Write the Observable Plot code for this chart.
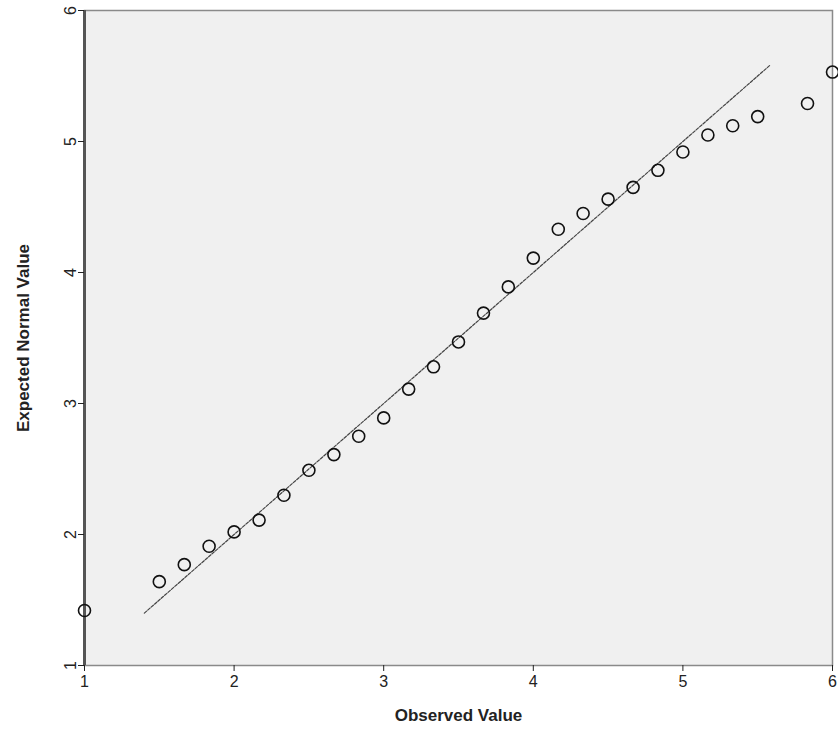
<!DOCTYPE html>
<html><head><meta charset="utf-8">
<script src="https://cdn.jsdelivr.net/npm/d3@7"></script>
<script src="https://cdn.jsdelivr.net/npm/@observablehq/plot@0.6"></script>
<style>body{margin:0;background:#fff;font-family:"Liberation Sans",Arial,sans-serif}</style>
</head><body><div id="chart"></div>
<script>
const observed = [1.0, 1.5, 1.667, 1.833, 2.0, 2.167, 2.333, 2.5, 2.667, 2.833, 3.0, 3.167, 3.333, 3.5, 3.667, 3.833, 4.0, 4.167, 4.333, 4.5, 4.667, 4.833, 5.0, 5.167, 5.333, 5.5, 5.833, 6.0];
const expected = [1.42, 1.64, 1.77, 1.91, 2.02, 2.11, 2.30, 2.49, 2.61, 2.75, 2.89, 3.11, 3.28, 3.47, 3.69, 3.89, 4.11, 4.33, 4.45, 4.56, 4.65, 4.78, 4.92, 5.05, 5.12, 5.19, 5.29, 5.53];
const refLine = [1.4, 5.58];
const xTicks = [1, 2, 3, 4, 5, 6];
const yTicks = [1, 2, 3, 4, 5, 6];
const xLabel = "Observed Value";
const yLabel = "Expected Normal Value";

const points = observed.map((x, i) => ({x, y: expected[i]}));
const linePts = refLine.map(v => ({x: v, y: v}));

const chart = Plot.plot({
  width: 838, height: 740,
  marginTop: 10, marginBottom: 75, marginLeft: 84, marginRight: 6,
  style: {fontFamily: "Liberation Sans, Arial, sans-serif", fontSize: "16px", background: "transparent", color: "#222"},
  x: {domain: [1, 6]},
  y: {domain: [1, 6]},
  marks: [
    Plot.frame({fill: "#f0f0f0"}),
    Plot.frame({stroke: "#8a8a8a", strokeWidth: 1.5}),
    Plot.ruleX([1], {stroke: "#555", strokeWidth: 3}),
    Plot.line(linePts, {x: "x", y: "y", stroke: "#444", strokeWidth: 1.2, strokeDasharray: "3,1.5"}),
    Plot.dot(points, {x: "x", y: "y", r: 6, stroke: "#111", strokeWidth: 1.6, fill: "none"}),
    Plot.axisX({ticks: xTicks, tickFormat: d3.format("d"), fontSize: 16, tickSize: 6, tickPadding: 4, label: xLabel, labelArrow: "none", labelAnchor: "center", labelOffset: 55}),
    Plot.axisY({ticks: yTicks, tickFormat: d3.format("d"), fontSize: 16, tickSize: 6, tickPadding: 3, tickRotate: -90, label: yLabel, labelArrow: "none", labelAnchor: "center", labelOffset: 68})
  ]
});
document.getElementById("chart").appendChild(chart);
chart.querySelectorAll('g[aria-label="x-axis label"], g[aria-label="y-axis label"]').forEach(g => {
  g.setAttribute("font-size", "17");
  g.setAttribute("font-weight", "bold");
  g.setAttribute("fill", "#222");
  g.querySelectorAll("text").forEach(t => { t.textContent = t.textContent.replace(/\s*[→↑←↓]\s*/g, "").trim(); });
});
</script>
</body></html>
